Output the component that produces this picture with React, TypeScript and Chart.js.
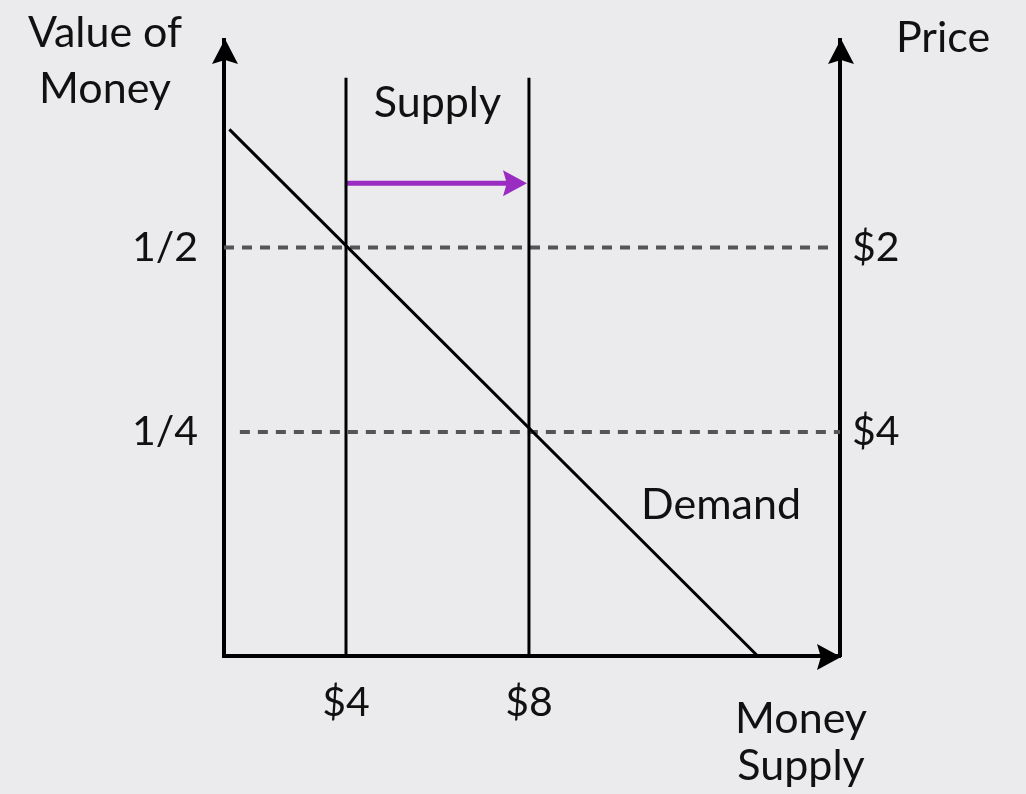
import React, { useEffect, useRef } from "react";
import { Chart, registerables } from "chart.js";

Chart.register(...registerables);

// ---- data ----
const demandX = [1.45, 13.0];
const demandY = [0.66, -0.0535];
const supplyX = [4, 8];
const supplyBottom = -0.0535;
const supplyTop = 0.73;
const valueTicks = [0.5, 0.25];
const valueLabels = ["1/2", "1/4"];
const priceLabels = ["$2", "$4"];
const supplyTicks = [4, 8];
const supplyLabels = ["$4", "$8"];
const dashStartX = [1.333, 1.68];
const dashEndX = [14.58, 14.8];
const shiftY = 0.587;

const X_MIN = 1.333;
const X_MAX = 14.8;
const Y_MIN = -0.0535;
const Y_MAX = 0.781;

const FONT = "Lato, 'Open Sans', sans-serif";
const TEXT = "#111";

const overlay = {
  id: "overlay",
  afterDatasetsDraw(chart: any) {
    const { ctx, chartArea } = chart;
    const xs = chart.scales.x;
    const ys = chart.scales.y;
    const { left, right, top, bottom } = chartArea;
    ctx.save();
    // notched arrowhead pointing in direction (dx,dy)
    const head = (tx: number, ty: number, dx: number, dy: number, len: number, half: number) => {
      const px = -dy, py = dx;
      ctx.beginPath();
      ctx.moveTo(tx, ty);
      ctx.lineTo(tx - dx * len + px * half, ty - dy * len + py * half);
      ctx.lineTo(tx - dx * len * 0.84, ty - dy * len * 0.84);
      ctx.lineTo(tx - dx * len - px * half, ty - dy * len - py * half);
      ctx.closePath();
      ctx.fill();
    };
    ctx.fillStyle = "#000";
    head(left + 1, top - 1, 0, -1, 25, 13);
    head(right + 1, top - 1, 0, -1, 25, 13);
    head(right + 1, bottom + 1, 1, 0, 24, 13);
    // purple shift arrowhead
    const ax = xs.getPixelForValue(supplyX[1]) - 2;
    const ay = ys.getPixelForValue(shiftY);
    ctx.fillStyle = "#9a2cc2";
    head(ax, ay, 1, 0, 24, 13);

    // text labels
    ctx.fillStyle = TEXT;
    ctx.font = `43px ${FONT}`;
    ctx.textAlign = "center";
    ctx.textBaseline = "alphabetic";
    ctx.fillText("Value of", 105, 47);
    ctx.fillText("Money", 105, 103);
    ctx.fillText("Price", 943, 52);
    ctx.fillText("Money", 801, 733);
    ctx.fillText("Supply", 801, 780);
    ctx.textBaseline = "middle";
    ctx.fillText("Supply", (xs.getPixelForValue(supplyX[0]) + xs.getPixelForValue(supplyX[1])) / 2, ys.getPixelForValue(0.696));
    ctx.fillText("Demand", xs.getPixelForValue(12.2), ys.getPixelForValue(0.151));
    ctx.restore();
  },
};

export default function App() {
  const ref = useRef<HTMLCanvasElement | null>(null);
  useEffect(() => {
    if (!ref.current) return;
    const line = (data: any[], color: string, width: number, dash: number[] = []) => ({
      data,
      borderColor: color,
      borderWidth: width,
      borderDash: dash,
      pointRadius: 0,
      showLine: true,
      fill: false,
      tension: 0,
      clip: false as any,
    });
    const noPadV = (s: any) => { s.paddingTop = 0; s.paddingBottom = 0; };
    const chart = new Chart(ref.current, {
      type: "scatter",
      data: {
        datasets: [
          line(demandX.map((x, i) => ({ x, y: demandY[i] })), "#000", 3),
          line([{ x: supplyX[0], y: supplyBottom }, { x: supplyX[0], y: supplyTop }], "#000", 3),
          line([{ x: supplyX[1], y: supplyBottom }, { x: supplyX[1], y: supplyTop }], "#000", 3),
          line([{ x: supplyX[0], y: shiftY }, { x: supplyX[1] - 0.4, y: shiftY }], "#9a2cc2", 5),
          line([{ x: dashStartX[0], y: valueTicks[0] }, { x: dashEndX[0], y: valueTicks[0] }], "#555", 4, [10, 8]),
          line([{ x: dashStartX[1], y: valueTicks[1] }, { x: dashEndX[1], y: valueTicks[1] }], "#555", 4, [10, 8]),
        ],
      },
      options: {
        responsive: false,
        animation: false,
        devicePixelRatio: 1,
        layout: { padding: { top: 40, left: 0, right: 0, bottom: 0 } },
        plugins: { legend: { display: false }, tooltip: { enabled: false } },
        scales: {
          x: {
            type: "linear",
            min: X_MIN,
            max: X_MAX,
            grid: { display: false, drawTicks: false },
            border: { display: true, color: "#000", width: 4 },
            afterBuildTicks: (s: any) => { s.ticks = supplyTicks.map((v) => ({ value: v })); },
            afterFit: (s: any) => { s.height = 138; s.paddingLeft = 0; s.paddingRight = 0; },
            ticks: {
              autoSkip: false,
              maxRotation: 0,
              padding: 22,
              color: TEXT,
              font: { family: FONT, size: 41 },
              callback: (_v: any, i: number) => supplyLabels[i],
            },
          },
          y: {
            type: "linear",
            position: "left",
            min: Y_MIN,
            max: Y_MAX,
            grid: { display: false, drawTicks: false },
            border: { display: true, color: "#000", width: 4 },
            afterBuildTicks: (s: any) => { s.ticks = valueTicks.map((v) => ({ value: v })); },
            afterFit: (s: any) => { s.width = 224; noPadV(s); },
            ticks: {
              autoSkip: false,
              padding: 26,
              color: TEXT,
              font: { family: FONT, size: 41 },
              callback: (_v: any, i: number) => valueLabels[i],
            },
          },
          y2: {
            type: "linear",
            position: "right",
            min: Y_MIN,
            max: Y_MAX,
            grid: { display: false, drawTicks: false },
            border: { display: true, color: "#000", width: 4 },
            afterBuildTicks: (s: any) => { s.ticks = valueTicks.map((v) => ({ value: v })); },
            afterFit: (s: any) => { s.width = 186; noPadV(s); },
            ticks: {
              autoSkip: false,
              padding: 12,
              color: TEXT,
              font: { family: FONT, size: 41 },
              callback: (_v: any, i: number) => priceLabels[i],
            },
          },
        },
      } as any,
      plugins: [overlay],
    });
    return () => chart.destroy();
  }, []);
  return (
    <div style={{ position: "fixed", left: 0, top: 0, width: 1026, height: 794, background: "#ebebed" }}>
      <canvas ref={ref} width={1026} height={794} />
    </div>
  );
}
